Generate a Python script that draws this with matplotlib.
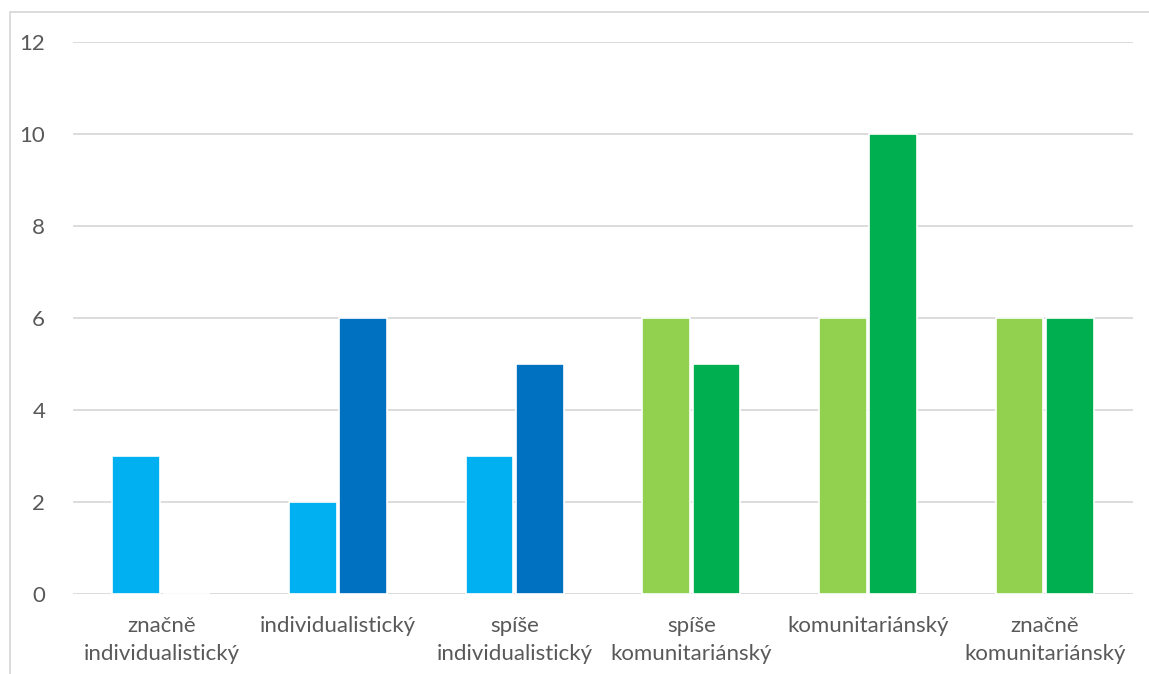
import numpy as np
import matplotlib
matplotlib.use("Agg")
from matplotlib import pyplot as plt
import matplotlib.patches as mpatches

# data
categories = ["značně\nindividualistický", "individualistický", "spíše\nindividualistický",
              "spíše\nkomunitariánský", "komunitariánský", "značně\nkomunitariánský"]
series_a = [3, 2, 3, 6, 6, 6]
series_b = [0, 6, 5, 5, 10, 6]
colors_a = ["#00B0F0", "#00B0F0", "#00B0F0", "#92D050", "#92D050", "#92D050"]
colors_b = ["#0070C0", "#0070C0", "#0070C0", "#00B050", "#00B050", "#00B050"]
yticks = [0, 2, 4, 6, 8, 10, 12]

plt.rcParams["font.family"] = ["Lato", "DejaVu Sans"]

fig = plt.figure(figsize=(11.49, 6.74), dpi=100)
ax = fig.add_axes([73/1149, 1-594/674, 1060/1149, 552/674])

x = np.arange(len(categories))
off = 0.143
w = 0.27
ax.bar(x - off, series_a, width=w, color=colors_a, edgecolor="white", linewidth=1.2, zorder=3)
ax.bar(x + off, series_b, width=w, color=colors_b, edgecolor="white", linewidth=1.2, zorder=3)

ax.set_xlim(-0.5, len(categories) - 0.5)
ax.set_ylim(0, 12)
ax.set_yticks(yticks)
ax.set_xticks(x)
ax.set_xticklabels(categories, linespacing=1.5)
ax.grid(axis="y", color="#D9D9D9", linewidth=1.3, zorder=0)
ax.tick_params(axis="both", length=0, labelsize=16, labelcolor="#595959")
ax.tick_params(axis="y", pad=20)
ax.tick_params(axis="x", pad=16)
for s in ax.spines.values():
    s.set_visible(False)

# outer chart frame (cut off at right and bottom)
frame = mpatches.Rectangle((10/1149, -0.05), 1.1, 1 - 12/674 + 0.05, transform=fig.transFigure,
                           fill=False, edgecolor="#D9D9D9", linewidth=1.3)
fig.patches.append(frame)

fig.savefig("out.png", dpi=100)
